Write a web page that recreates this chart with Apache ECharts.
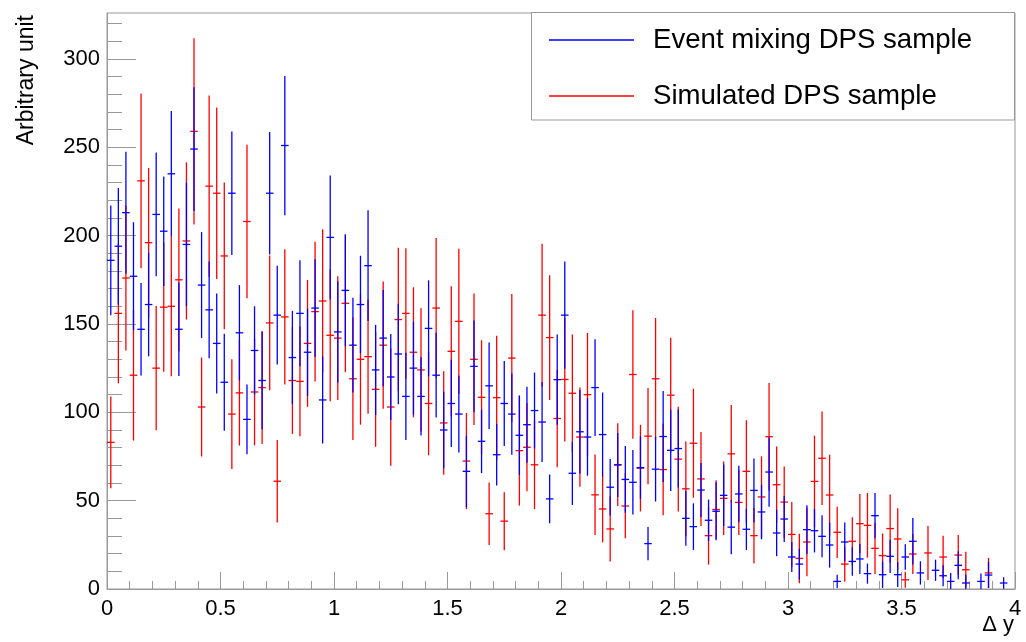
<!DOCTYPE html>
<html>
<head>
<meta charset="utf-8">
<script src="https://cdn.jsdelivr.net/npm/echarts@6/dist/echarts.min.js"></script>
<style>
  html, body { margin: 0; padding: 0; background: #fff; }
  #chart { width: 1026px; height: 642px; }
</style>
</head>
<body>
<div id="chart"></div>
<script>
// binning of the histogram: 120 bins between 0 and 4
const xMin = 0;
const xMax = 4;
const nBins = 120;
const binWidth = (xMax - xMin) / nBins;

// "Event mixing DPS sample" (blue) bin contents and errors, null = empty bin
const blueVal = [186, 194, 213, 177, 147, 161, 212, 202.5, 235, 147,
  195, 249, 172, 158, 139, 117, 224, 145, 96, 135,
  118, 224, 155, 251, 131, 156, 134, 159, 107, 199,
  145.5, 169, 138, 161, 183, 124, 142, 120, 133, 109,
  125, 109, 147.5, 121, 90, 105, 99, 66.6, 126, 83.6,
  115, 76, 105, 99, 87, 93, 101, 94.5, 51, 118.5,
  155, 65.5, 89, 86, 114, 87.4, 57.6, 70.2, 62, 60.4,
  68.7, 25.7, 67.8, 86.3, 78.5, 79.5, 40, 35.3, 56, 38.9,
  44, 53, 35, 53.8, 33.8, 55.8, 43.6, 66.2, 31.7, 39.6,
  18.1, 14.1, 33.6, 33, 29.8, 24.9, 4.3, 26.6, 15.6, 17,
  8.7, 41.5, 8.1, 18.5, 8.1, 18.1, 27, 9.1, null, 10.6,
  7.5, 4.3, 13.4, 3.4, null, 4.3, 7.9, null, 3.4, null];
const blueErr = [31, 33, 34.5, 30.6, 26.2, 29.3, 35, 31, 35.5, 26.4,
  35, 35, 30, 27.4, 28.3, 27.4, 35, 27, 19.8, 25,
  27.6, 34.7, 28, 39.4, 26.4, 30, 24.7, 27.7, 24.7, 35,
  28.7, 31.7, 26.8, 27.6, 31.3, 25.5, 27.2, 24.3, 28.5, 24.7,
  26.4, 22.1, 27.2, 24, 21.7, 24.7, 21.7, 20.2, 25.9, 18,
  24.5, 17.4, 24, 23, 22.5, 21.5, 21.5, 22.6, 13.8, 25.5,
  30.4, 17.9, 23.6, 21.9, 27.4, 23.8, 16, 18.1, 18.9, 18.3,
  17.7, 9.4, 18.3, 25.7, 23, 22.1, 15.5, 13.2, 15.3, 11.7,
  16.4, 17.4, 15.3, 16, 11.7, 18.1, 15.5, 19.6, 13.2, 13,
  8.5, 8.7, 13.8, 12.3, 11.9, 12.8, 3.8, 11.1, 8.1, 8.5,
  5.7, 12.8, 7.5, 9.4, 7, 7.2, 13.2, 6.6, null, 6,
  5.9, 4.7, 7.9, 4.7, null, 4.5, 7.4, null, 3.3, null];

// "Simulated DPS sample" (red)
const redVal = [83, 156, 176, 121, 231, 196, 125, 159.5, 160, 175,
  197, 259, 103, 228, 224, 188.5, 99, 111, 208, 111.5,
  114, 150.6, 61, 154, 118, 117.5, 139, 157, 163, 143.6,
  142, 161.7, 119, 130, 131.5, 113, 138, 103, 152.5, 156,
  134, 124, 105, 159, 94, 134.5, 151.5, 72.4, 130, 108.5,
  42.6, 108.3, 38.4, 130.7, 78.3, 80.2, 70.3, 155, 142.3, 96.5,
  118.6, 110.8, 86, 110, 53.3, 45.3, 34, 70.4, 47, 121.4,
  68.4, 86.5, 119, 67.6, 109.7, 73.5, 56.7, 82.5, 62.3, 30.2,
  45, 51.3, 76.5, 49, 66.6, 30.2, 52.1, 86.2, 59, 49.2,
  30.9, 17.3, 26.6, 60.9, 74, 53.2, 32.1, 14.1, 27, 37,
  36, 23, 18.9, 34.2, 28.3, 5.2, 19.8, null, 20.4, null,
  18.1, null, 19.2, 10.9, null, null, 9.1, null, null, null];
const redErr = [26, 39.6, 41, 37, 49.5, 42.3, 35.1, 36.6, 39.6, 40.4,
  44.5, 52.7, 28, 51.3, 48.5, 41.5, 31.1, 29.8, 43.4, 30.2,
  32, 38.1, 23.4, 38.3, 30.2, 31.1, 35.9, 39.6, 40.6, 37.4,
  35, 39, 34.7, 37, 32.3, 32.5, 36, 33.2, 40.6, 36.8,
  36.8, 34.9, 29.3, 39.6, 29.3, 36.8, 41.1, 27.2, 37.2, 32.3,
  17.7, 35.1, 16.4, 36.2, 31.1, 24.9, 25.1, 40.4, 35.3, 27.6,
  35.1, 33.2, 28.1, 34.9, 22.8, 18.9, 18.5, 23.4, 18.3, 36.4,
  24.5, 27.2, 34.4, 25.9, 32.5, 29.6, 26.8, 30.8, 26.6, 16.4,
  16.5, 20.8, 27.6, 18.5, 28.9, 15.7, 23, 30.4, 21.7, 20.2,
  18.3, 14, 19.4, 25.9, 26.4, 22.8, 14.5, 10, 13.6, 16.8,
  18.3, 14.5, 12.5, 19.3, 17.4, 4.5, 11.3, null, 15.3, null,
  12, null, 11.3, 10.2, null, null, 8.5, null, null, null];

const yMax = 326;
const yMajorTicks = [0, 50, 100, 150, 200, 250, 300];
const yMinorTicks = [10, 20, 30, 40, 60, 70, 80, 90, 110, 120, 130, 140, 160, 170, 180, 190,
  210, 220, 230, 240, 260, 270, 280, 290, 310, 320];

const blueName = 'Event mixing DPS sample';
const redName = 'Simulated DPS sample';
const font = '"Liberation Sans", Arial, Helvetica, sans-serif';

function toPoints(vals, errs) {
  const out = [];
  vals.forEach(function (v, i) {
    if (v == null) return;
    out.push([xMin + (i + 0.5) * binWidth, v, errs[i]]);
  });
  return out;
}

function errorBars(color) {
  return function (params, api) {
    const x = api.value(0);
    const v = api.value(1);
    const e = api.value(2);
    const c = api.coord([x, v]);
    const hi = api.coord([x, v + e]);
    const lo = api.coord([x, Math.max(v - e, 0)]);
    const hw = api.size([binWidth, 0])[0] / 2;
    return {
      type: 'group',
      children: [
        { type: 'line', shape: { x1: c[0], y1: hi[1], x2: c[0], y2: lo[1] },
          style: { stroke: color, lineWidth: 1.3 } },
        { type: 'line', shape: { x1: c[0] - hw, y1: c[1], x2: c[0] + hw, y2: c[1] },
          style: { stroke: color, lineWidth: 1.3 } }
      ]
    };
  };
}

const chart = echarts.init(document.getElementById('chart'));
const axisGrey = '#999';

chart.setOption({
  animation: false,
  backgroundColor: '#fff',
  grid: {
    left: 107, right: 11, top: 13, bottom: 53,
    show: true, borderColor: axisGrey, borderWidth: 1, backgroundColor: 'transparent'
  },
  xAxis: {
    type: 'value', min: xMin, max: xMax, interval: 0.5,
    axisLine: { show: true, onZero: false, lineStyle: { color: axisGrey } },
    axisTick: { show: true, inside: true, length: 17, lineStyle: { color: axisGrey } },
    minorTick: { show: true, splitNumber: 5, length: 8, lineStyle: { color: axisGrey } },
    splitLine: { show: false },
    axisLabel: { color: '#000', fontSize: 22, fontFamily: font, margin: 9 }
  },
  yAxis: [
    {
      type: 'value', min: 0, max: yMax,
      axisLine: { show: true, lineStyle: { color: axisGrey } },
      axisTick: { show: true, inside: true, length: 29, customValues: yMajorTicks,
        lineStyle: { color: axisGrey } },
      splitLine: { show: false },
      axisLabel: { color: '#000', fontSize: 22, fontFamily: font, margin: 7,
        customValues: yMajorTicks }
    },
    {
      type: 'value', min: 0, max: yMax, position: 'left',
      axisLine: { show: false },
      axisTick: { show: true, inside: true, length: 15, customValues: yMinorTicks,
        lineStyle: { color: axisGrey } },
      splitLine: { show: false },
      axisLabel: { show: false }
    }
  ],
  legend: {
    orient: 'vertical',
    left: 549, top: 26,
    padding: 0,
    itemWidth: 85, itemHeight: 1.5, itemGap: 28,
    icon: 'rect',
    selectedMode: false,
    z: 6,
    textStyle: { color: '#000', fontSize: 27.6, fontFamily: font, padding: [0, 0, 0, 14] },
    data: [blueName, redName]
  },
  graphic: [
    { type: 'rect', z: 5, shape: { x: 531.5, y: 12.5, width: 483, height: 107.5 },
      style: { fill: '#fff', stroke: axisGrey, lineWidth: 1 } },
    { type: 'text', x: 27, y: 15, rotation: Math.PI / 2,
      style: { text: 'Arbitrary unit', fill: '#000', font: '23px ' + font,
        align: 'right', verticalAlign: 'middle' } },
    { type: 'text', x: 1014, y: 625,
      style: { text: 'Δ y', fill: '#000', font: '22px ' + font,
        align: 'right', verticalAlign: 'middle' } }
  ],
  series: [
    {
      name: redName, type: 'custom', renderItem: errorBars('#ff0000'),
      itemStyle: { color: '#ff0000' },
      encode: { x: 0, y: 1 },
      data: toPoints(redVal, redErr), z: 2
    },
    {
      name: blueName, type: 'custom', renderItem: errorBars('#0000ff'),
      itemStyle: { color: '#0000ff' },
      encode: { x: 0, y: 1 },
      data: toPoints(blueVal, blueErr), z: 3
    }
  ]
});
</script>
</body>
</html>
